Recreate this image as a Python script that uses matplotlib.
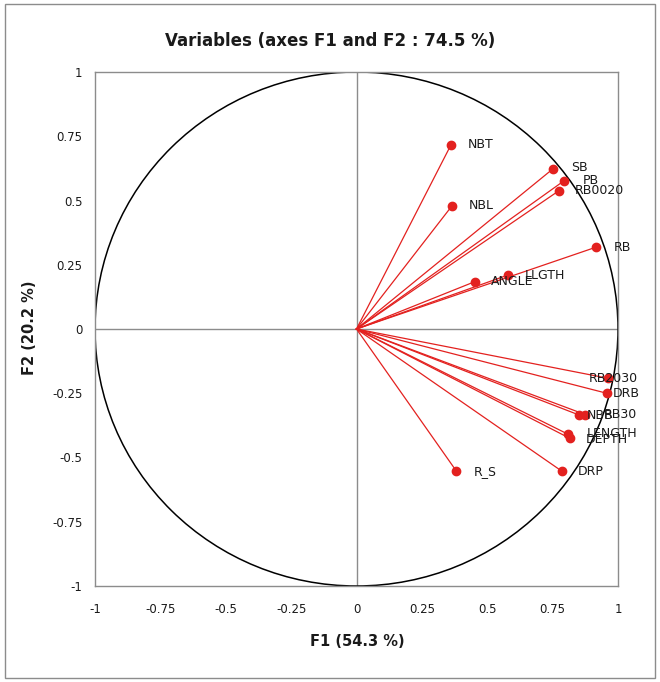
import matplotlib
matplotlib.use("Agg")
import matplotlib.pyplot as plt
from matplotlib.patches import Circle, Rectangle

# ---- data ----
variables = ["NBT", "NBL", "SB", "PB", "RB0020", "RB", "LLGTH", "ANGLE",
             "RB2030", "DRB", "NBB", "RB30", "LENGTH", "DEPTH", "DRP", "R_S"]
f1 = [0.361, 0.365, 0.751, 0.794, 0.774, 0.915, 0.579, 0.452,
      0.963, 0.957, 0.852, 0.875, 0.810, 0.815, 0.785, 0.382]
f2 = [0.716, 0.479, 0.623, 0.577, 0.538, 0.318, 0.210, 0.184,
      -0.192, -0.250, -0.335, -0.333, -0.410, -0.425, -0.553, -0.553]
ticks = [-1, -0.75, -0.5, -0.25, 0, 0.25, 0.5, 0.75, 1]
tick_labels = ["-1", "-0.75", "-0.5", "-0.25", "0", "0.25", "0.5", "0.75", "1"]
title = "Variables (axes F1 and F2 : 74.5 %)"
xlab = "F1 (54.3 %)"
ylab = "F2 (20.2 %)"

# label placement (pixel offsets from each point, layout only)
label_dx = [17, 17, 18, 19, 16, 18, 17, 16,
            -20, 6, 7, 18, 18, 16, 16, 17]
label_dy = [0, 0, 1, 0, 0, 0, 0, 0,
            0, 0, 0, 0, 1, -1, 0, 0]

RED = "#e3211f"
GRAY = "#8c8c8c"
TXT = "#1a1a1a"

W, H = 660, 682
fig = plt.figure(figsize=(W / 100, H / 100), dpi=100)
fig.patch.set_facecolor("white")
fig.patches.append(Rectangle((5 / W, 4 / H), 650 / W, 674 / H, transform=fig.transFigure,
                             fill=False, edgecolor=GRAY, linewidth=1.0))

ax = fig.add_axes([95 / W, 1 - 586 / H, (618 - 95) / W, (586 - 72) / H])
ax.set_xlim(-1, 1)
ax.set_ylim(-1, 1)

for s in ax.spines.values():
    s.set_color(GRAY)
    s.set_linewidth(1.0)

ax.axhline(0, color=GRAY, linewidth=1.0, zorder=1)
ax.axvline(0, color=GRAY, linewidth=1.0, zorder=1)

ax.add_patch(Circle((0, 0), 1, fill=False, edgecolor="black", linewidth=1.1, zorder=2))

for name, x, y, dx, dy in zip(variables, f1, f2, label_dx, label_dy):
    ax.plot([0, x], [0, y], color=RED, linewidth=0.9, zorder=3)
    ax.plot([x], [y], "o", color=RED, markersize=6, zorder=4)
    ax.annotate(name, (x, y), xytext=(dx, dy), textcoords="offset pixels",
                ha="left", va="center", fontsize=9, color=TXT, zorder=5,
                annotation_clip=False)

ax.set_xticks(ticks)
ax.set_xticklabels(tick_labels)
ax.set_yticks(ticks)
ax.set_yticklabels(tick_labels)
ax.tick_params(axis="both", length=0, labelsize=8.5, labelcolor=TXT)
ax.tick_params(axis="x", pad=12)
ax.tick_params(axis="y", pad=9)

fig.text(330 / W, 1 - 41 / H, title, ha="center", va="center",
         fontsize=12, fontweight="bold", color=TXT)
fig.text(357 / W, 1 - 642 / H, xlab, ha="center", va="center",
         fontsize=10.5, fontweight="bold", color=TXT)
fig.text(30 / W, 1 - 328 / H, ylab, ha="center", va="center", rotation=90,
         fontsize=10.5, fontweight="bold", color=TXT)

fig.savefig("out.png", dpi=100, facecolor="white")
